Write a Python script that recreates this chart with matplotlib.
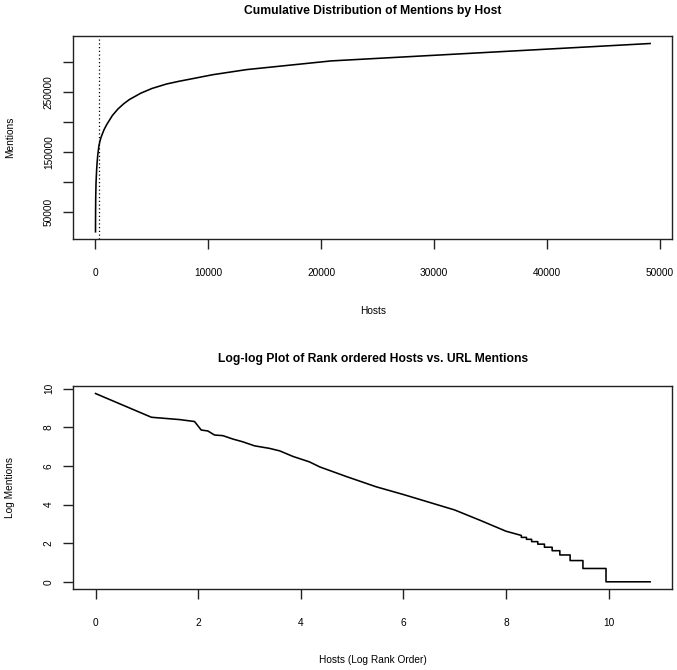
import matplotlib
matplotlib.use('Agg')
import matplotlib.pyplot as plt
import numpy as np

plt.rcParams['font.family'] = ['Liberation Sans', 'DejaVu Sans']

# cumulative mentions by host
hosts = [1, 3, 8, 20, 50, 100, 150, 200, 300, 400, 500, 750, 1000, 1500,
         2000, 2500, 3000, 4000, 5000, 6300, 7400, 8500, 10400, 13400,
         20900, 49160]
cum_mentions = [17000, 31000, 50000, 75000, 100000, 120000, 134000, 145000,
                160000, 168500, 175000, 187000, 196000, 211000, 222000,
                230500, 237500, 248000, 256000, 263500, 268000, 272000,
                279000, 287500, 302000, 331000]
cutoff_host = 300

# log rank vs log mentions
log_rank = [0.0, 1.09, 1.64, 1.93, 2.06, 2.19, 2.32, 2.48, 2.68, 2.87, 3.10,
            3.39, 3.59, 3.85, 4.17, 4.37, 4.89, 5.47, 6.0, 6.5, 7.0, 7.5,
            8.0, 8.3, 8.3, 8.4, 8.4, 8.5, 8.5, 8.62, 8.62, 8.75, 8.75, 8.9,
            8.9, 9.05, 9.05, 9.25, 9.25, 9.5, 9.5, 9.95, 9.95, 10.81]
log_mentions = [9.75, 8.52, 8.40, 8.30, 7.86, 7.81, 7.60, 7.57, 7.39, 7.25,
                7.04, 6.91, 6.78, 6.49, 6.21, 5.95, 5.45, 4.92, 4.52, 4.12,
                3.72, 3.18, 2.62, 2.40, 2.30, 2.30, 2.20, 2.20, 2.08, 2.08,
                1.95, 1.95, 1.79, 1.79, 1.61, 1.61, 1.39, 1.39, 1.10, 1.10,
                0.69, 0.69, 0.0, 0.0]

fig = plt.figure(figsize=(6.77, 6.70), dpi=100)
ax1 = fig.add_axes([0.1083, 0.6428, 0.8848, 0.3035])
ax2 = fig.add_axes([0.1083, 0.1204, 0.8848, 0.3035])


def r_limits(vals):
    lo, hi = min(vals), max(vals)
    ext = (hi - lo) * 0.04
    return lo - ext, hi + ext


def r_style(ax):
    for s in ax.spines.values():
        s.set_linewidth(1.0)
        s.set_color('#222222')
    ax.tick_params(axis='both', direction='out', length=7, width=1,
                   labelsize=7.3, color='#222222')
    ax.tick_params(axis='x', pad=14)
    ax.tick_params(axis='y', pad=7, labelrotation=90)
    for lab in ax.get_yticklabels():
        lab.set_va('center')


# top panel
ax1.plot(hosts, cum_mentions, color='black', lw=1.15)
ax1.axvline(cutoff_host, color='black', lw=0.9, linestyle=(0, (1, 2)))
ax1.set_xlim(*r_limits(hosts))
ax1.set_ylim(*r_limits(cum_mentions))
ax1.set_xticks([0, 10000, 20000, 30000, 40000, 50000])
ax1.set_xticklabels(['0', '10000', '20000', '30000', '40000', '50000'])
ax1.set_yticks([50000, 100000, 150000, 200000, 250000, 300000])
ax1.set_yticklabels(['50000', '', '150000', '', '250000', ''])
r_style(ax1)
ax1.set_title('Cumulative Distribution of Mentions by Host',
              fontsize=8.7, fontweight='bold', pad=15.5)
ax1.set_xlabel('Hosts', fontsize=7.3, va='center')
ax1.set_ylabel('Mentions', fontsize=7.3, va='center')
ax1.xaxis.set_label_coords(0.5, -0.353)
ax1.yaxis.set_label_coords(-0.1057, 0.5)

# bottom panel
ax2.plot(log_rank, log_mentions, color='black', lw=1.15)
ax2.set_xlim(*r_limits(log_rank))
ax2.set_ylim(*r_limits(log_mentions))
ax2.set_xticks([0, 2, 4, 6, 8, 10])
ax2.set_yticks([0, 2, 4, 6, 8, 10])
r_style(ax2)
ax2.set_title('Log-log Plot of Rank ordered Hosts vs. URL Mentions',
              fontsize=8.7, fontweight='bold', pad=17)
ax2.set_xlabel('Hosts (Log Rank Order)', fontsize=7.3, va='center')
ax2.set_ylabel('Log Mentions', fontsize=7.3, va='center')
ax2.xaxis.set_label_coords(0.5, -0.348)
ax2.yaxis.set_label_coords(-0.1057, 0.5)

fig.savefig('out.png', dpi=100)
